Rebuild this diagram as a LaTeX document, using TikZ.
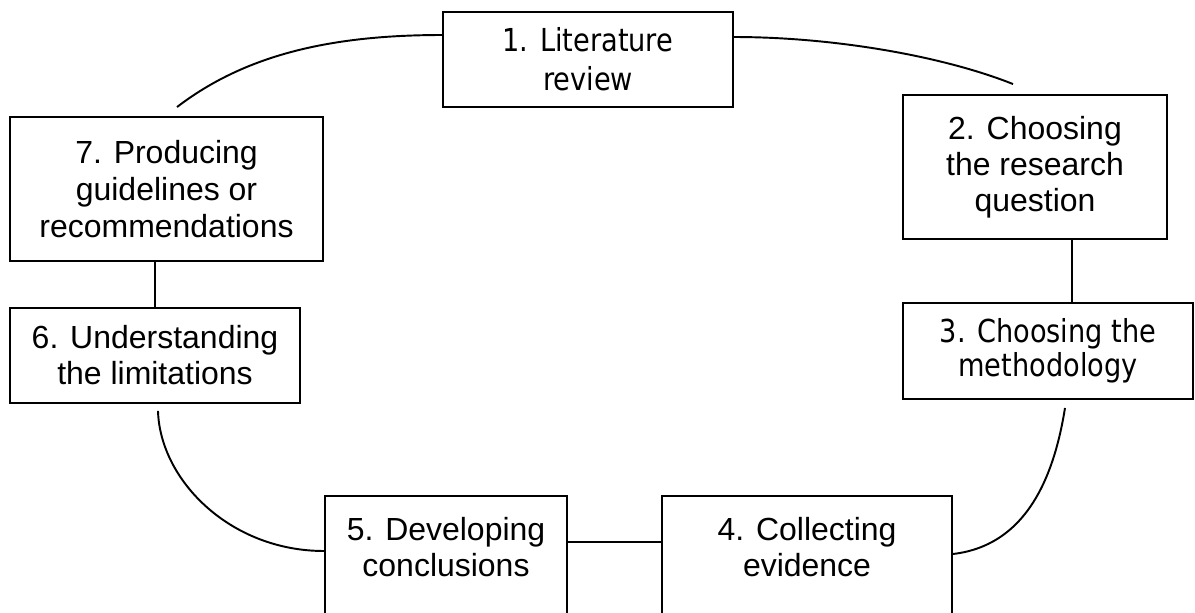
\documentclass[tikz,border=0pt]{standalone}
\usepackage{fontspec}
\setmainfont{Liberation Sans}
\newfontfamily\vfont[FakeStretch=0.86]{DejaVu Sans}
\usetikzlibrary{positioning,calc}

\begin{document}
\begin{tikzpicture}[x=0.02cm, y=-0.02cm,
  stage/.style={draw=black, line width=1.1pt, align=center, inner sep=2pt,
                font=\fontsize{18.2}{20.5}\selectfont},
  stagev/.style={stage, font=\vfont\fontsize{18}{22}\selectfont},
  openbox/.style={stage, anchor=north, inner ysep=0.42cm, text depth=3cm},
  link/.style={line width=1.1pt, draw=black}
]
  \useasboundingbox (0,0) rectangle (1195,612);
  \clip (0,0) rectangle (1195,612);

  \node[stagev, minimum width=5.8cm, minimum height=1.9cm] (lit) at (588,59.5) {1. Literature\\review};
  \node[stage, minimum width=5.28cm, minimum height=2.88cm] (ques) at (1035,167) {2. Choosing\\the research\\question};
  \node[stagev, font=\vfont\fontsize{18}{19.5}\selectfont, minimum width=5.8cm, minimum height=1.92cm] (meth) at (1048,351) {3. Choosing the\\methodology};
  \node[openbox, minimum width=5.8cm] (coll) at (807,495) {4. Collecting\\evidence};
  \node[openbox, minimum width=4.84cm] (conc) at (446,495) {5. Developing\\conclusions};
  \node[stage, minimum width=5.8cm, minimum height=1.9cm] (lim) at (155,355.5) {6. Understanding\\the limitations};
  \node[stage, font=\fontsize{18.2}{21}\selectfont, minimum width=6.26cm, minimum height=2.88cm] (prod) at (166.5,189) {7. Producing\\guidelines or\\recommendations};

  \draw[link] ([xshift=0.21cm,yshift=0.18cm]prod.north) .. controls (245,55) and (330,35) .. ([yshift=0.49cm]lit.west);
  \draw[link] ([yshift=0.45cm]lit.east) .. controls (830,37) and (940,55) .. ([xshift=-0.44cm,yshift=0.2cm]ques.north);
  \draw[link] ([xshift=0.74cm]ques.south) -- ([xshift=0.48cm]meth.north);
  \draw[link] ([xshift=0.34cm,yshift=-0.16cm]meth.south) .. controls (1055,470) and (1030,545) .. ([yshift=-1.18cm]coll.north east);
  \draw[link] ([yshift=-0.94cm]coll.north west) -- ([yshift=-0.94cm]conc.north east);
  \draw[link] ([yshift=-1.12cm]conc.north west) .. controls (230,551) and (160,480) .. ([xshift=0.06cm,yshift=-0.14cm]lim.south);
  \draw[link] (lim.north) -- (lim.north |- prod.south);
\end{tikzpicture}
\end{document}
